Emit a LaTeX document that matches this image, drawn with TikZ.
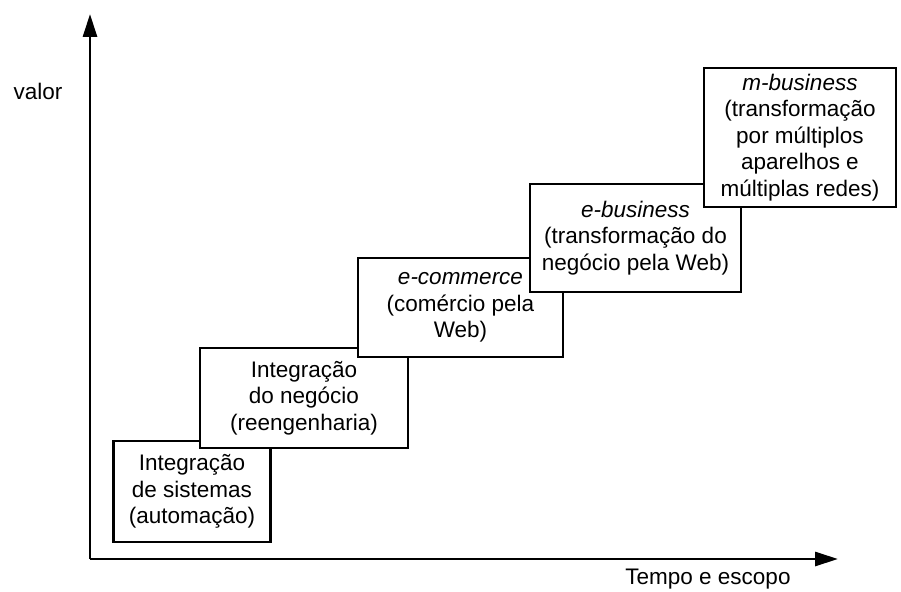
\documentclass[tikz,border=0pt]{standalone}
\usepackage{fontspec}
\setmainfont{Liberation Sans}
\usetikzlibrary{arrows.meta}
\begin{document}
\begin{tikzpicture}[x=1pt,y=-1pt,
  stagebox/.style={draw=black, line width=2.2pt, fill=white, align=center,
    inner sep=0pt, font=\fontsize{22.5}{26.5}\selectfont},
  axis/.style={line width=2.8pt, -{Triangle[length=23pt,width=14pt]}},
  axislabel/.style={font=\fontsize{22.5}{26.5}\selectfont, inner sep=0pt}]
  \useasboundingbox (0,0) rectangle (901,591);

  % axes
  \coordinate (origin) at (90,559);
  \coordinate (ytip) at (90,14);
  \coordinate (xtip) at (838,559);
  \draw[axis] (origin) -- (ytip);
  \draw[axis] (origin) -- (xtip);
  \node[axislabel] (valor) at (38,91) {valor};
  \node[axislabel] (tempo) at (708,579) {Tempo e escopo};

  % stages, each drawn over the previous one
  \node[stagebox, minimum width=157pt, minimum height=101pt] (s1) at (192,491.5)
    {Integração\\de sistemas\\(automação)};
  \node[stagebox, minimum width=208pt, minimum height=100pt] (s2) at (304,398)
    {Integração\\do negócio\\(reengenharia)};
  \node[stagebox, minimum width=205pt, minimum height=99pt] (s3) at (460.5,307.5)
    {\textit{e-commerce}\\(comércio pela\\Web)};
  \node[stagebox, minimum width=211pt, minimum height=108pt] (s4) at (635.5,238)
    {\textit{e-business}\\(transformação do\\negócio pela Web)};
  \node[stagebox, minimum width=192pt, minimum height=139pt] (s5) at (800,137.5)
    {\textit{m-business}\\(transformação\\por múltiplos\\aparelhos e\\múltiplas redes)};
\end{tikzpicture}
\end{document}
